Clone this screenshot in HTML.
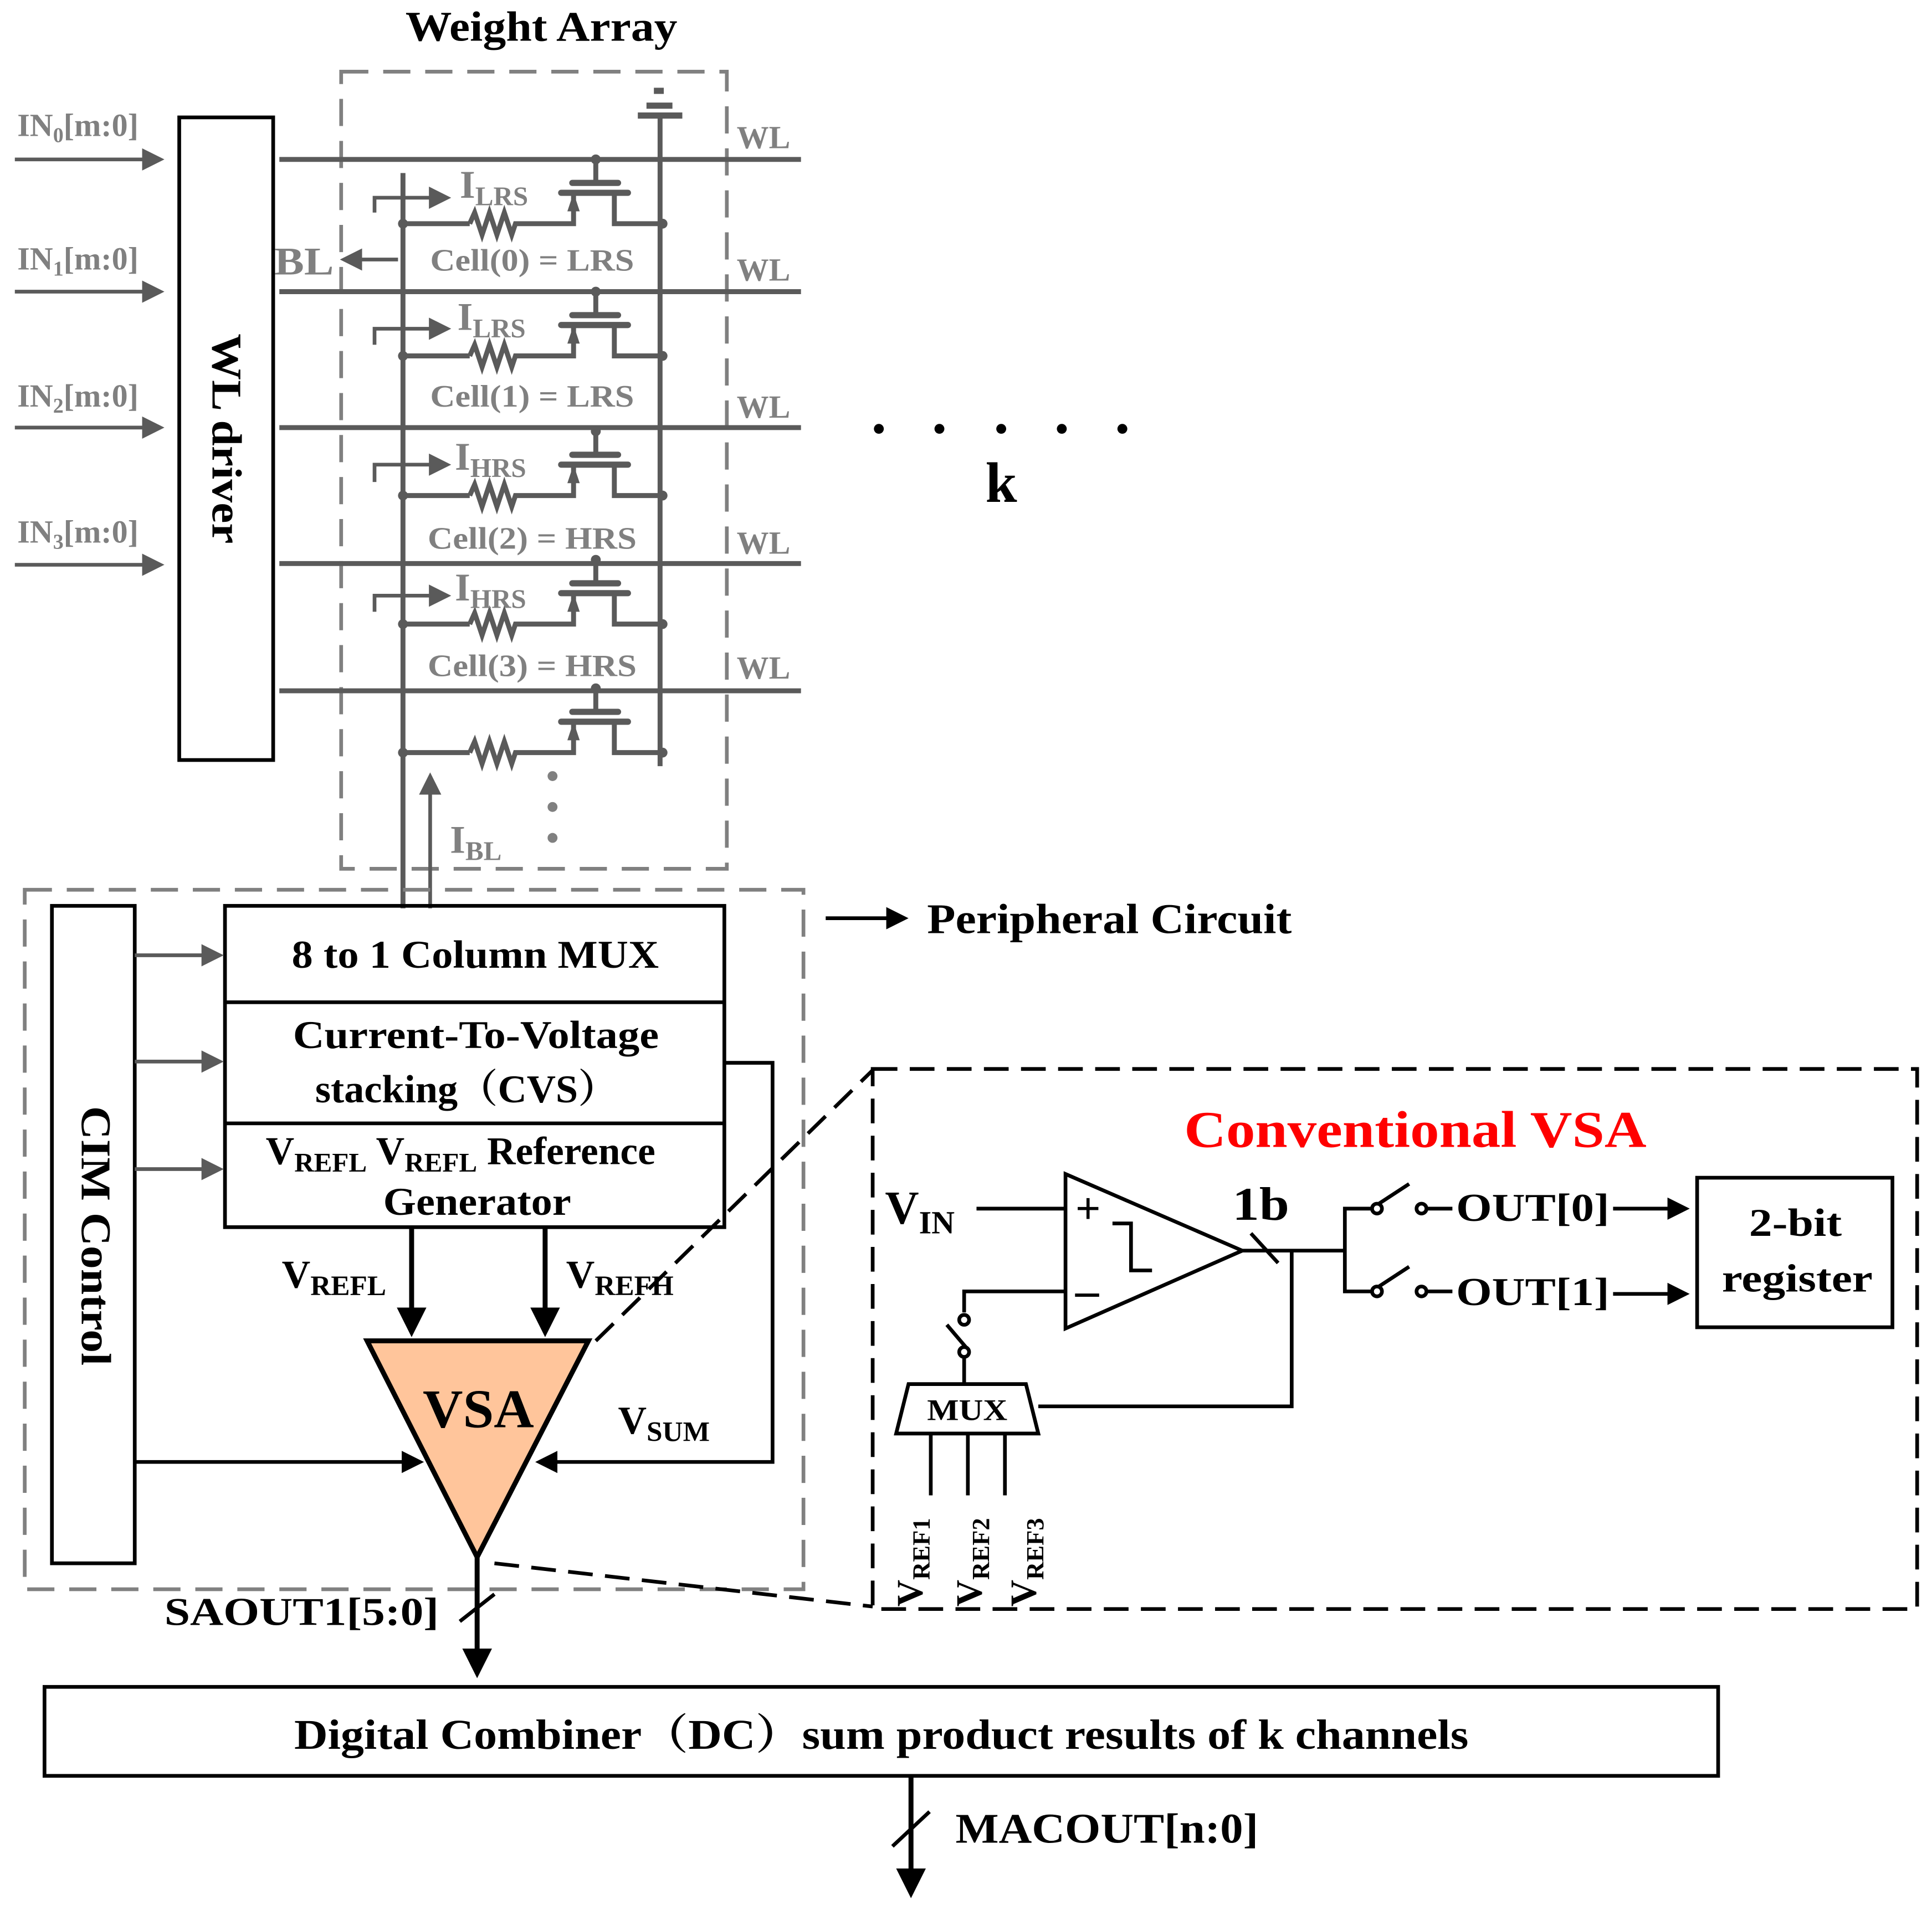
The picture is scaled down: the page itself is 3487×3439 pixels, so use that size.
<!DOCTYPE html>
<html><head><meta charset="utf-8"><style>html,body{margin:0;padding:0;background:#fff}svg{display:block}</style></head><body>
<svg width="3487" height="3439" viewBox="0 0 1563 1541.5" xmlns="http://www.w3.org/2000/svg" font-family="'Liberation Serif', serif" font-weight="bold">
<defs>
<marker id="ag" markerWidth="6" markerHeight="6" refX="5" refY="3" orient="auto" markerUnits="strokeWidth"><path d="M0,0 L6,3 L0,6 z" fill="#5a5a5a"/></marker>
<marker id="ak" markerWidth="6" markerHeight="6" refX="5" refY="3" orient="auto" markerUnits="strokeWidth"><path d="M0,0 L6,3 L0,6 z" fill="#000"/></marker>
<g id="cell">
<line x1="326" y1="0" x2="380" y2="0" stroke="#5a5a5a" stroke-width="4"/>
<polyline points="380,0 384,-9 390,9 396,-9 402,9 408,-9 414,9 417,0 464,0 464,-24" fill="none" stroke="#5a5a5a" stroke-width="4"/>
<path d="M459,-10 L469,-10 L464,-25 z" fill="#5a5a5a"/>
<line x1="454" y1="-25" x2="508" y2="-25" stroke="#5a5a5a" stroke-width="5" stroke-linecap="round"/>
<line x1="463" y1="-33" x2="500" y2="-33" stroke="#5a5a5a" stroke-width="5" stroke-linecap="round"/>
<line x1="482" y1="-33" x2="482" y2="-52" stroke="#5a5a5a" stroke-width="4"/>
<circle cx="482" cy="-52" r="4" fill="#5a5a5a"/>
<polyline points="497,-25 497,0 536,0" fill="none" stroke="#5a5a5a" stroke-width="4"/>
<circle cx="536" cy="0" r="4" fill="#5a5a5a"/><circle cx="326" cy="0" r="4" fill="#5a5a5a"/>
</g>
</defs>
<text x="328" y="33" font-size="34" textLength="220" lengthAdjust="spacingAndGlyphs">Weight Array</text>
<rect x="276" y="58" width="312" height="645" fill="none" stroke="#808080" stroke-width="3" stroke-dasharray="22,12"/>
<rect x="145" y="95" width="76" height="520" fill="none" stroke="#000" stroke-width="3"/>
<text transform="translate(172,270) rotate(90)" font-size="34" textLength="170" lengthAdjust="spacingAndGlyphs">WL driver</text>
<g fill="#808080" font-size="26">
<text x="14" y="110">IN<tspan font-size="17" dy="5">0</tspan><tspan dy="-5">[m:0]</tspan></text>
<text x="14" y="218">IN<tspan font-size="17" dy="5">1</tspan><tspan dy="-5">[m:0]</tspan></text>
<text x="14" y="329">IN<tspan font-size="17" dy="5">2</tspan><tspan dy="-5">[m:0]</tspan></text>
<text x="14" y="439">IN<tspan font-size="17" dy="5">3</tspan><tspan dy="-5">[m:0]</tspan></text>
</g>
<g stroke="#5a5a5a" stroke-width="3" marker-end="url(#ag)">
<line x1="12" y1="129" x2="130" y2="129"/><line x1="12" y1="236" x2="130" y2="236"/><line x1="12" y1="346" x2="130" y2="346"/><line x1="12" y1="457" x2="130" y2="457"/>
</g>
<g stroke="#5a5a5a" stroke-width="4">
<line x1="226" y1="129" x2="648" y2="129"/><line x1="226" y1="236" x2="648" y2="236"/><line x1="226" y1="346" x2="648" y2="346"/><line x1="226" y1="456" x2="648" y2="456"/><line x1="226" y1="559" x2="648" y2="559"/>
<line x1="326" y1="140" x2="326" y2="735"/><line x1="534" y1="93" x2="534" y2="620"/>
</g>
<rect x="516" y="91" width="36" height="5" fill="#5a5a5a"/><rect x="523" y="83" width="21" height="5" fill="#5a5a5a"/><rect x="529" y="71" width="8" height="5" fill="#5a5a5a"/>
<g fill="#808080" font-size="26"><text x="596" y="120">WL</text><text x="596" y="227">WL</text><text x="596" y="338">WL</text><text x="596" y="448">WL</text><text x="596" y="549">WL</text></g>
<use href="#cell" y="181"/><use href="#cell" y="288"/><use href="#cell" y="401"/><use href="#cell" y="505"/><use href="#cell" y="609"/>
<g fill="none" stroke="#5a5a5a" stroke-width="3">
<polyline points="303,172 303,160 362,160" marker-end="url(#ag)"/>
<polyline points="303,279 303,266 362,266" marker-end="url(#ag)"/>
<polyline points="303,390 303,376 362,376" marker-end="url(#ag)"/>
<polyline points="303,495 303,482 362,482" marker-end="url(#ag)"/>
<line x1="322" y1="210" x2="278" y2="210" marker-end="url(#ag)"/>
<line x1="348" y1="735" x2="348" y2="628" marker-end="url(#ag)"/>
</g>
<g fill="#808080" font-size="32">
<text x="372" y="160">I<tspan font-size="22" dy="6">LRS</tspan></text>
<text x="370" y="267">I<tspan font-size="22" dy="6">LRS</tspan></text>
<text x="368" y="380">I<tspan font-size="22" dy="6">HRS</tspan></text>
<text x="368" y="486">I<tspan font-size="22" dy="6">HRS</tspan></text>
<text x="364" y="690">I<tspan font-size="22" dy="6">BL</tspan></text>
<text x="222" y="222" font-size="32" textLength="48" lengthAdjust="spacingAndGlyphs">BL</text>
</g>
<g fill="#808080" font-size="25"><text x="348" y="219" textLength="165" lengthAdjust="spacingAndGlyphs">Cell(0) = LRS</text><text x="348" y="329" textLength="165" lengthAdjust="spacingAndGlyphs">Cell(1) = LRS</text><text x="346" y="444" textLength="169" lengthAdjust="spacingAndGlyphs">Cell(2) = HRS</text><text x="346" y="547" textLength="169" lengthAdjust="spacingAndGlyphs">Cell(3) = HRS</text></g>
<g fill="#808080"><circle cx="447" cy="628" r="4"/><circle cx="447" cy="653" r="4"/><circle cx="447" cy="678" r="4"/></g>
<g fill="#000"><circle cx="711" cy="347" r="4"/><circle cx="760" cy="347" r="4"/><circle cx="810" cy="347" r="4"/><circle cx="859" cy="347" r="4"/><circle cx="908" cy="347" r="4"/></g>
<text x="810" y="406" font-size="46" text-anchor="middle">k</text>
<rect x="20" y="720" width="630" height="566" fill="none" stroke="#808080" stroke-width="3" stroke-dasharray="22,12"/>
<line x1="668" y1="743" x2="732" y2="743" stroke="#000" stroke-width="3" marker-end="url(#ak)"/>
<text x="750" y="755" font-size="34" textLength="295" lengthAdjust="spacingAndGlyphs">Peripheral Circuit</text>
<rect x="42" y="733" width="67" height="532" fill="none" stroke="#000" stroke-width="3"/>
<text transform="translate(66,895) rotate(90)" font-size="34" textLength="210" lengthAdjust="spacingAndGlyphs">CIM Control</text>
<rect x="182" y="733" width="404" height="260" fill="none" stroke="#000" stroke-width="3"/>
<line x1="182" y1="811" x2="586" y2="811" stroke="#000" stroke-width="3"/><line x1="182" y1="909" x2="586" y2="909" stroke="#000" stroke-width="3"/>
<g font-size="32">
<text x="236" y="783" textLength="297" lengthAdjust="spacingAndGlyphs">8 to 1 Column MUX</text>
<text x="237" y="848" textLength="296" lengthAdjust="spacingAndGlyphs">Current-To-Voltage</text>
<text x="255" y="892" textLength="245" lengthAdjust="spacingAndGlyphs" font-family="'Liberation Serif','Noto Serif CJK SC',serif">stacking（CVS）</text>
<text x="215" y="942">V<tspan font-size="22" dy="6">REFL</tspan><tspan dy="-6"> V</tspan><tspan font-size="22" dy="6">REFL</tspan><tspan dy="-6"> Reference</tspan></text>
<text x="310" y="983" textLength="152" lengthAdjust="spacingAndGlyphs">Generator</text>
</g>
<g stroke="#5a5a5a" stroke-width="3" marker-end="url(#ag)"><line x1="109" y1="773" x2="178" y2="773"/><line x1="109" y1="859" x2="178" y2="859"/><line x1="109" y1="946" x2="178" y2="946"/></g>
<polygon points="297,1085 476,1085 386,1260" fill="#FFC59B" stroke="#000" stroke-width="4"/>
<text x="342" y="1155" font-size="44" textLength="90" lengthAdjust="spacingAndGlyphs">VSA</text>
<g stroke="#000" stroke-width="4" fill="none">
<line x1="333" y1="993" x2="333" y2="1078" marker-end="url(#ak)"/>
<line x1="441" y1="993" x2="441" y2="1078" marker-end="url(#ak)"/>
<polyline points="586,860 625,860 625,1183 436,1183" marker-end="url(#ak)" stroke-width="3"/>
<line x1="109" y1="1183" x2="340" y2="1183" stroke-width="3" marker-end="url(#ak)"/>
<line x1="386" y1="1260" x2="386" y2="1354" marker-end="url(#ak)"/>
<line x1="372" y1="1312" x2="400" y2="1290" stroke-width="3"/>
</g>
<g font-size="32"><text x="228" y="1042">V<tspan font-size="23" dy="6">REFL</tspan></text><text x="458" y="1042">V<tspan font-size="23" dy="6">REFH</tspan></text><text x="500" y="1160">V<tspan font-size="23" dy="6">SUM</tspan></text><text x="133" y="1315" textLength="222" lengthAdjust="spacingAndGlyphs">SAOUT1[5:0]</text></g>
<g stroke="#000" stroke-width="3" stroke-dasharray="20,10" fill="none">
<line x1="482" y1="1085" x2="706" y2="866"/><line x1="400" y1="1265" x2="706" y2="1300"/>
<rect x="706" y="865" width="845" height="437"/>
</g>
<text x="958" y="928" font-size="42" fill="#f00" textLength="374" lengthAdjust="spacingAndGlyphs">Conventional VSA</text>
<g stroke="#000" stroke-width="3" fill="none">
<polygon points="862,950 862,1075 1005,1012"/>
<polyline points="900,990 915,990 915,1028 932,1028"/>
<line x1="790" y1="978" x2="862" y2="978"/>
<polyline points="862,1045 780,1045 780,1062"/>
<line x1="766" y1="1072" x2="783" y2="1092"/>
<line x1="780" y1="1096" x2="780" y2="1120"/>
<polygon points="735,1120 830,1120 840,1160 725,1160"/>
<polyline points="840,1138 1045,1138 1045,1012"/>
<line x1="1005" y1="1012" x2="1088" y2="1012"/>
<line x1="1012" y1="998" x2="1034" y2="1022"/>
<polyline points="1110,978 1088,978 1088,1045 1110,1045"/>
<line x1="1114" y1="975" x2="1140" y2="958"/><line x1="1114" y1="1042" x2="1140" y2="1025"/>
<line x1="1154" y1="978" x2="1175" y2="978"/><line x1="1154" y1="1045" x2="1175" y2="1045"/>
<line x1="1305" y1="978" x2="1364" y2="978" marker-end="url(#ak)"/>
<line x1="1305" y1="1047" x2="1364" y2="1047" marker-end="url(#ak)"/>
<rect x="1373" y="953" width="158" height="121"/>
<line x1="753" y1="1160" x2="753" y2="1210"/><line x1="783" y1="1160" x2="783" y2="1210"/><line x1="813" y1="1160" x2="813" y2="1210"/>
</g>
<g fill="#fff" stroke="#000" stroke-width="3"><circle cx="780" cy="1068" r="4"/><circle cx="780" cy="1094" r="4"/><circle cx="1114" cy="978" r="4"/><circle cx="1150" cy="978" r="4"/><circle cx="1114" cy="1045" r="4"/><circle cx="1150" cy="1045" r="4"/></g>
<text x="870" y="990" font-size="36">+</text><text x="870" y="1057" font-size="38">–</text>
<text x="716" y="990" font-size="38">V<tspan font-size="26" dy="8">IN</tspan></text>
<text x="750" y="1149" font-size="24" textLength="65" lengthAdjust="spacingAndGlyphs">MUX</text>
<text x="997" y="987" font-size="38" textLength="46" lengthAdjust="spacingAndGlyphs">1b</text>
<g font-size="32"><text x="1178" y="988" textLength="124" lengthAdjust="spacingAndGlyphs">OUT[0]</text><text x="1178" y="1056" textLength="124" lengthAdjust="spacingAndGlyphs">OUT[1]</text></g>
<g font-size="32"><text x="1415" y="1000" textLength="75" lengthAdjust="spacingAndGlyphs">2-bit</text><text x="1393" y="1045" textLength="122" lengthAdjust="spacingAndGlyphs">register</text></g>
<g font-size="30"><text transform="translate(746,1300) rotate(-90)">V<tspan font-size="20" dy="6">REF1</tspan></text><text transform="translate(794,1300) rotate(-90)">V<tspan font-size="20" dy="6">REF2</tspan></text><text transform="translate(838,1300) rotate(-90)">V<tspan font-size="20" dy="6">REF3</tspan></text></g>
<rect x="36" y="1365" width="1354" height="72" fill="none" stroke="#000" stroke-width="3"/>
<text x="238" y="1415" font-size="34" textLength="950" lengthAdjust="spacingAndGlyphs" font-family="'Liberation Serif','Noto Serif CJK SC',serif">Digital Combiner（DC）sum product results of k channels</text>
<line x1="737" y1="1437" x2="737" y2="1532" stroke="#000" stroke-width="4" marker-end="url(#ak)"/>
<line x1="722" y1="1494" x2="752" y2="1466" stroke="#000" stroke-width="3"/>
<text x="773" y="1491" font-size="34" textLength="245" lengthAdjust="spacingAndGlyphs">MACOUT[n:0]</text>
</svg>
</body></html>
